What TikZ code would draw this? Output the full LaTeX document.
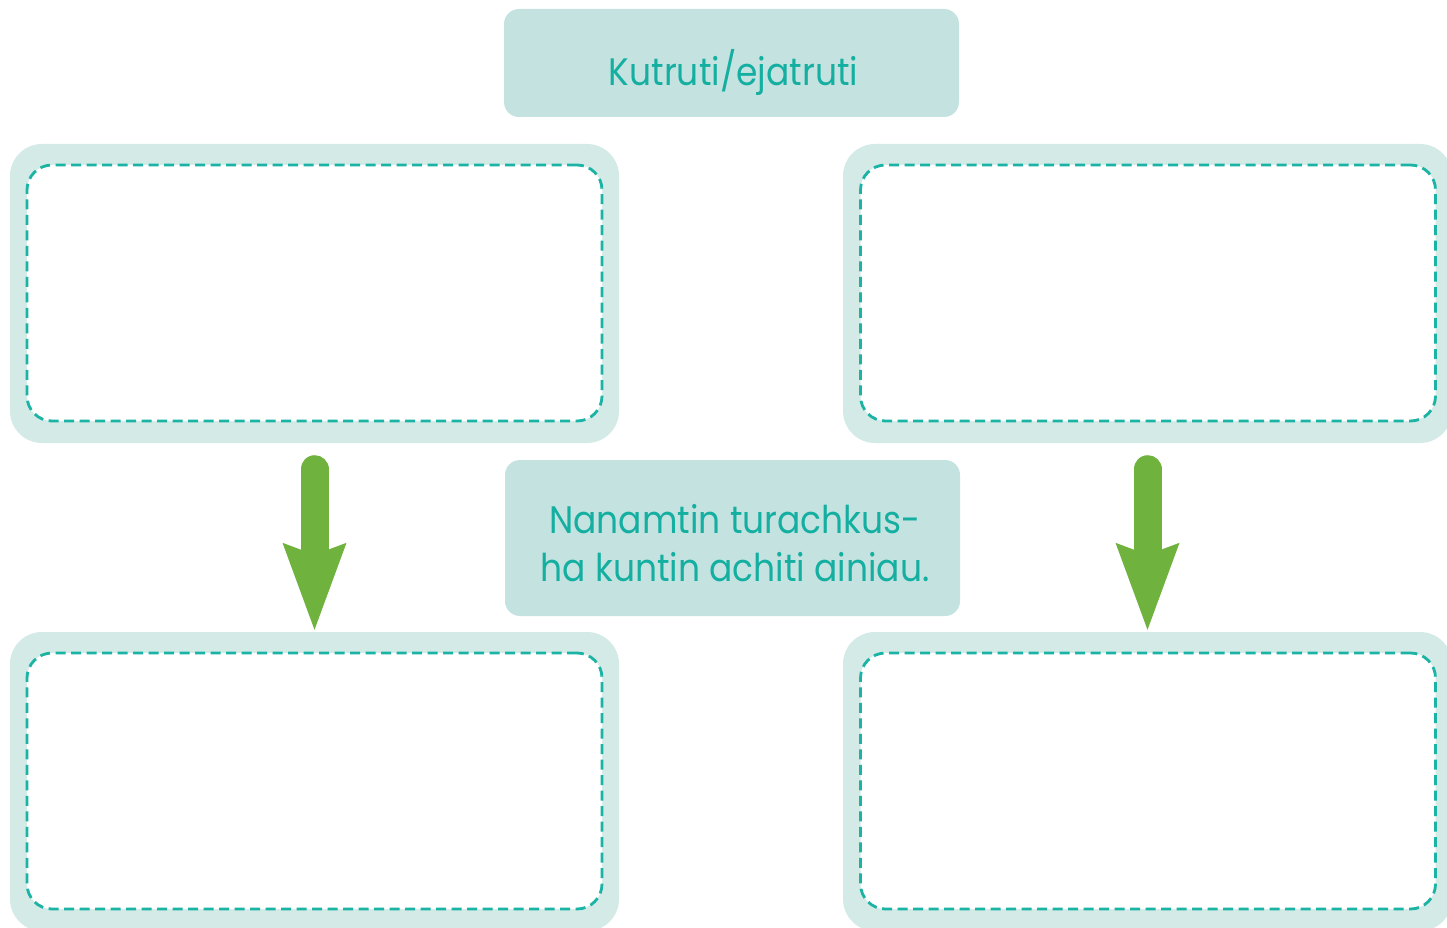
\documentclass[tikz,border=0pt]{standalone}
\usepackage{fontspec}
\setmainfont{Poppins}[FakeStretch=0.9]
\usetikzlibrary{arrows.meta}
\definecolor{boxfill}{HTML}{C4E3E0}
\definecolor{framefill}{HTML}{D3EAE7}
\definecolor{tealtext}{HTML}{14AFA1}
\definecolor{dashcol}{HTML}{1AB3A4}
\definecolor{arrowgreen}{HTML}{70B23E}
\begin{document}
\begin{tikzpicture}[x=1pt,y=-1pt,
  titlebox/.style={fill=boxfill, rounded corners=15pt, minimum width=455pt, inner sep=0pt, draw=none},
  frame/.style={fill=framefill, rounded corners=32pt, minimum width=609pt, minimum height=299pt, inner sep=0pt},
  slot/.style={fill=white, draw=dashcol, line width=2.8pt, dash pattern=on 10pt off 5.5pt, rounded corners=25pt, minimum width=575pt, minimum height=256pt, inner sep=0pt},
  lbl/.style={text=tealtext, font=\fontsize{38.3}{48.5}\selectfont, inner sep=0pt, align=center},
  flow/.style={draw=arrowgreen, line width=28pt, line cap=round,
    -{Stealth[length=87pt, width=64pt, inset=12pt, line width=0pt]}}
]
\clip (0,0) rectangle (1447,928);
% title box
\node[titlebox, minimum height=108pt] (top) at (731.5,63) {};
\node[lbl, anchor=base] (toptext) at (733.5,86) {Kutruti/ejatruti};
% frames
\node[frame] (tl) at (314.5,293.5) {};
\node[slot] (tlin) at (314.5,293) {};
\node[frame] (tr) at (1147.5,293.5) {};
\node[slot] (trin) at (1148,293) {};
\node[frame] (bl) at (314.5,781.5) {};
\node[slot] (blin) at (314.5,781) {};
\node[frame] (br) at (1147.5,781.5) {};
\node[slot] (brin) at (1148,781) {};
% middle box
\node[titlebox, minimum height=156pt] (mid) at (732.5,538) {};
\node[lbl] (midtext) at (735,543) {Nanamtin turachkus-\\ha kuntin achiti ainiau.};
% arrows
\draw[flow, shorten <=26pt, shorten >=2pt] (tl.south) -- (bl.north);
\draw[flow, shorten <=26pt, shorten >=2pt] (tr.south) -- (br.north);
\end{tikzpicture}
\end{document}
